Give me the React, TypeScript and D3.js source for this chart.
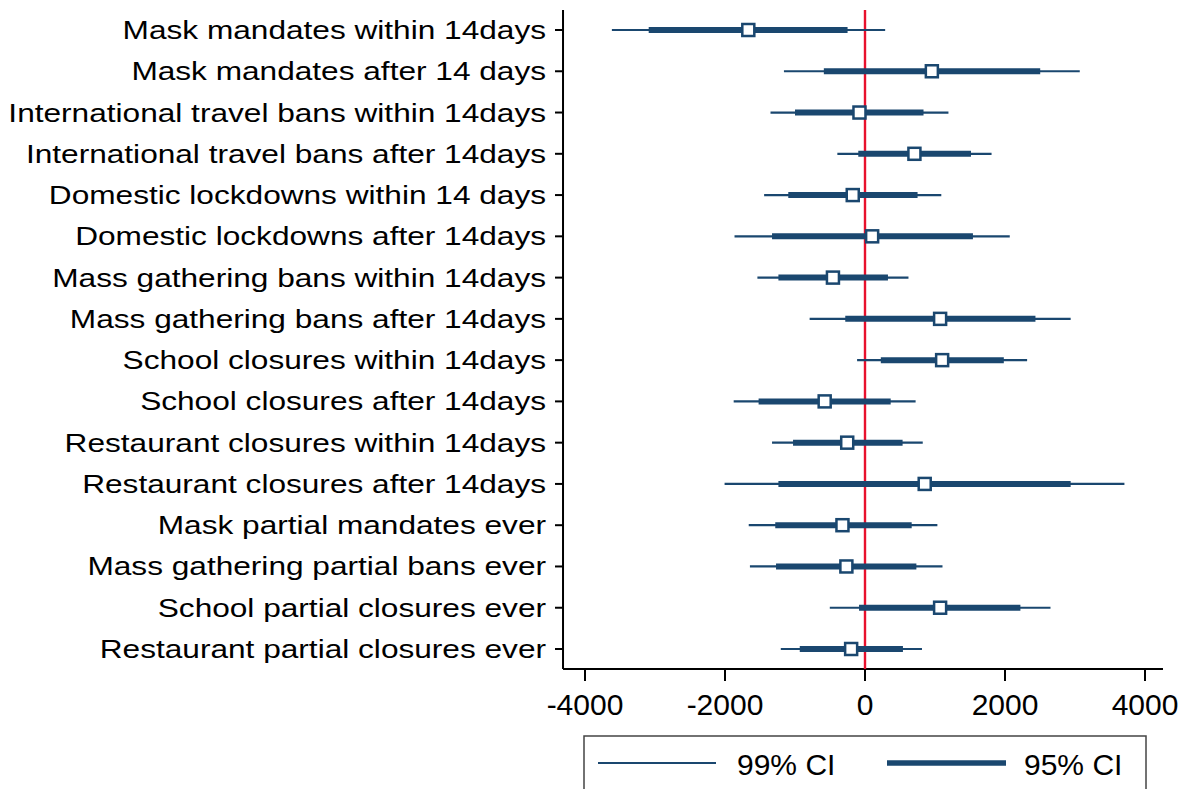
import * as d3 from "d3";

const labels = [
  "Mask mandates within 14days",
  "Mask mandates after 14 days",
  "International travel bans within 14days",
  "International travel bans after 14days",
  "Domestic lockdowns within 14 days",
  "Domestic lockdowns after 14days",
  "Mass gathering bans within 14days",
  "Mass gathering bans after 14days",
  "School closures within 14days",
  "School closures after 14days",
  "Restaurant closures within 14days",
  "Restaurant closures after 14days",
  "Mask partial mandates ever",
  "Mass gathering partial bans ever",
  "School partial closures ever",
  "Restaurant partial closures ever",
];
const estimates = [-1667, 955, -79, 706, -175, 102, -458, 1073, 1102, -576, -254, 853, -322, -266, 1073, -198];
const lo99 = [-3616, -1158, -1350, -395, -1441, -1864, -1537, -791, -113, -1876, -1328, -2006, -1661, -1644, -503, -1203];
const hi99 = [288, 3068, 1192, 1808, 1090, 2068, 621, 2938, 2316, 723, 825, 3706, 1034, 1107, 2650, 814];
const lo95 = [-3090, -588, -1000, -96, -1096, -1328, -1237, -282, 226, -1520, -1028, -1237, -1282, -1271, -85, -932];
const hi95 = [-249, 2503, 836, 1514, 751, 1542, 328, 2435, 1983, 367, 537, 2938, 667, 734, 2220, 542];
const xTicks = [-4000, -2000, 0, 2000, 4000];
const legendItems = ["99% CI", "95% CI"];

const navy = "#1a476f";
const red = "#e8112d";
const font = "'Liberation Sans', Arial, sans-serif";

export default function App() {
  const W = 1183, H = 789;
  const x = d3.scaleLinear().domain([-4000, 4000]).range([585, 1145]);
  const y = d3.scalePoint<string>().domain(labels).range([30, 649]);
  const axisY = 669;
  const axisLeft = x(-4314);
  const axisRight = x(4257);
  const top = 10;

  return (
    <svg width={W} height={H} style={{ position: "absolute", left: 0, top: 0, background: "#fff" }} fontFamily={font}>
      {/* y axis */}
      <line x1={axisLeft} x2={axisLeft} y1={top} y2={axisY} stroke="#000" strokeWidth={2} />
      {labels.map((l) => (
        <g key={l}>
          <line x1={axisLeft - 8} x2={axisLeft} y1={y(l)} y2={y(l)} stroke="#000" strokeWidth={2} />
          <g transform={`translate(${axisLeft - 17},${(y(l) ?? 0) + 9}) scale(1.216,1)`}>
            <text textAnchor="end" fontSize={26} fill="#000">{l}</text>
          </g>
        </g>
      ))}
      {/* x axis */}
      <line x1={axisLeft} x2={axisRight} y1={axisY} y2={axisY} stroke="#000" strokeWidth={2} />
      {xTicks.map((t) => (
        <g key={t}>
          <line x1={x(t)} x2={x(t)} y1={axisY} y2={axisY + 12} stroke="#000" strokeWidth={2} />
          <text x={x(t)} y={715} textAnchor="middle" fontSize={30} fill="#000">{t}</text>
        </g>
      ))}
      {/* reference line */}
      <line x1={x(0)} x2={x(0)} y1={top} y2={axisY} stroke={red} strokeWidth={2.4} />
      {/* CIs */}
      {labels.map((l, i) => (
        <g key={"ci" + l}>
          <line x1={x(lo99[i])} x2={x(hi99[i])} y1={y(l)} y2={y(l)} stroke={navy} strokeWidth={2.2} />
          <line x1={x(lo95[i])} x2={x(hi95[i])} y1={y(l)} y2={y(l)} stroke={navy} strokeWidth={6} />
          <rect x={x(estimates[i]) - 6} y={(y(l) ?? 0) - 6} width={12} height={12} fill="#fff" stroke={navy} strokeWidth={2.5} />
        </g>
      ))}
      {/* legend */}
      <rect x={584} y={736} width={562} height={70} fill="none" stroke="#444" strokeWidth={1.5} />
      <line x1={598} x2={716} y1={763} y2={763} stroke={navy} strokeWidth={2.2} />
      <text x={737} y={775} fontSize={30} fill="#000">{legendItems[0]}</text>
      <line x1={887} x2={1006} y1={763} y2={763} stroke={navy} strokeWidth={5.5} />
      <text x={1024} y={775} fontSize={30} fill="#000">{legendItems[1]}</text>
    </svg>
  );
}
